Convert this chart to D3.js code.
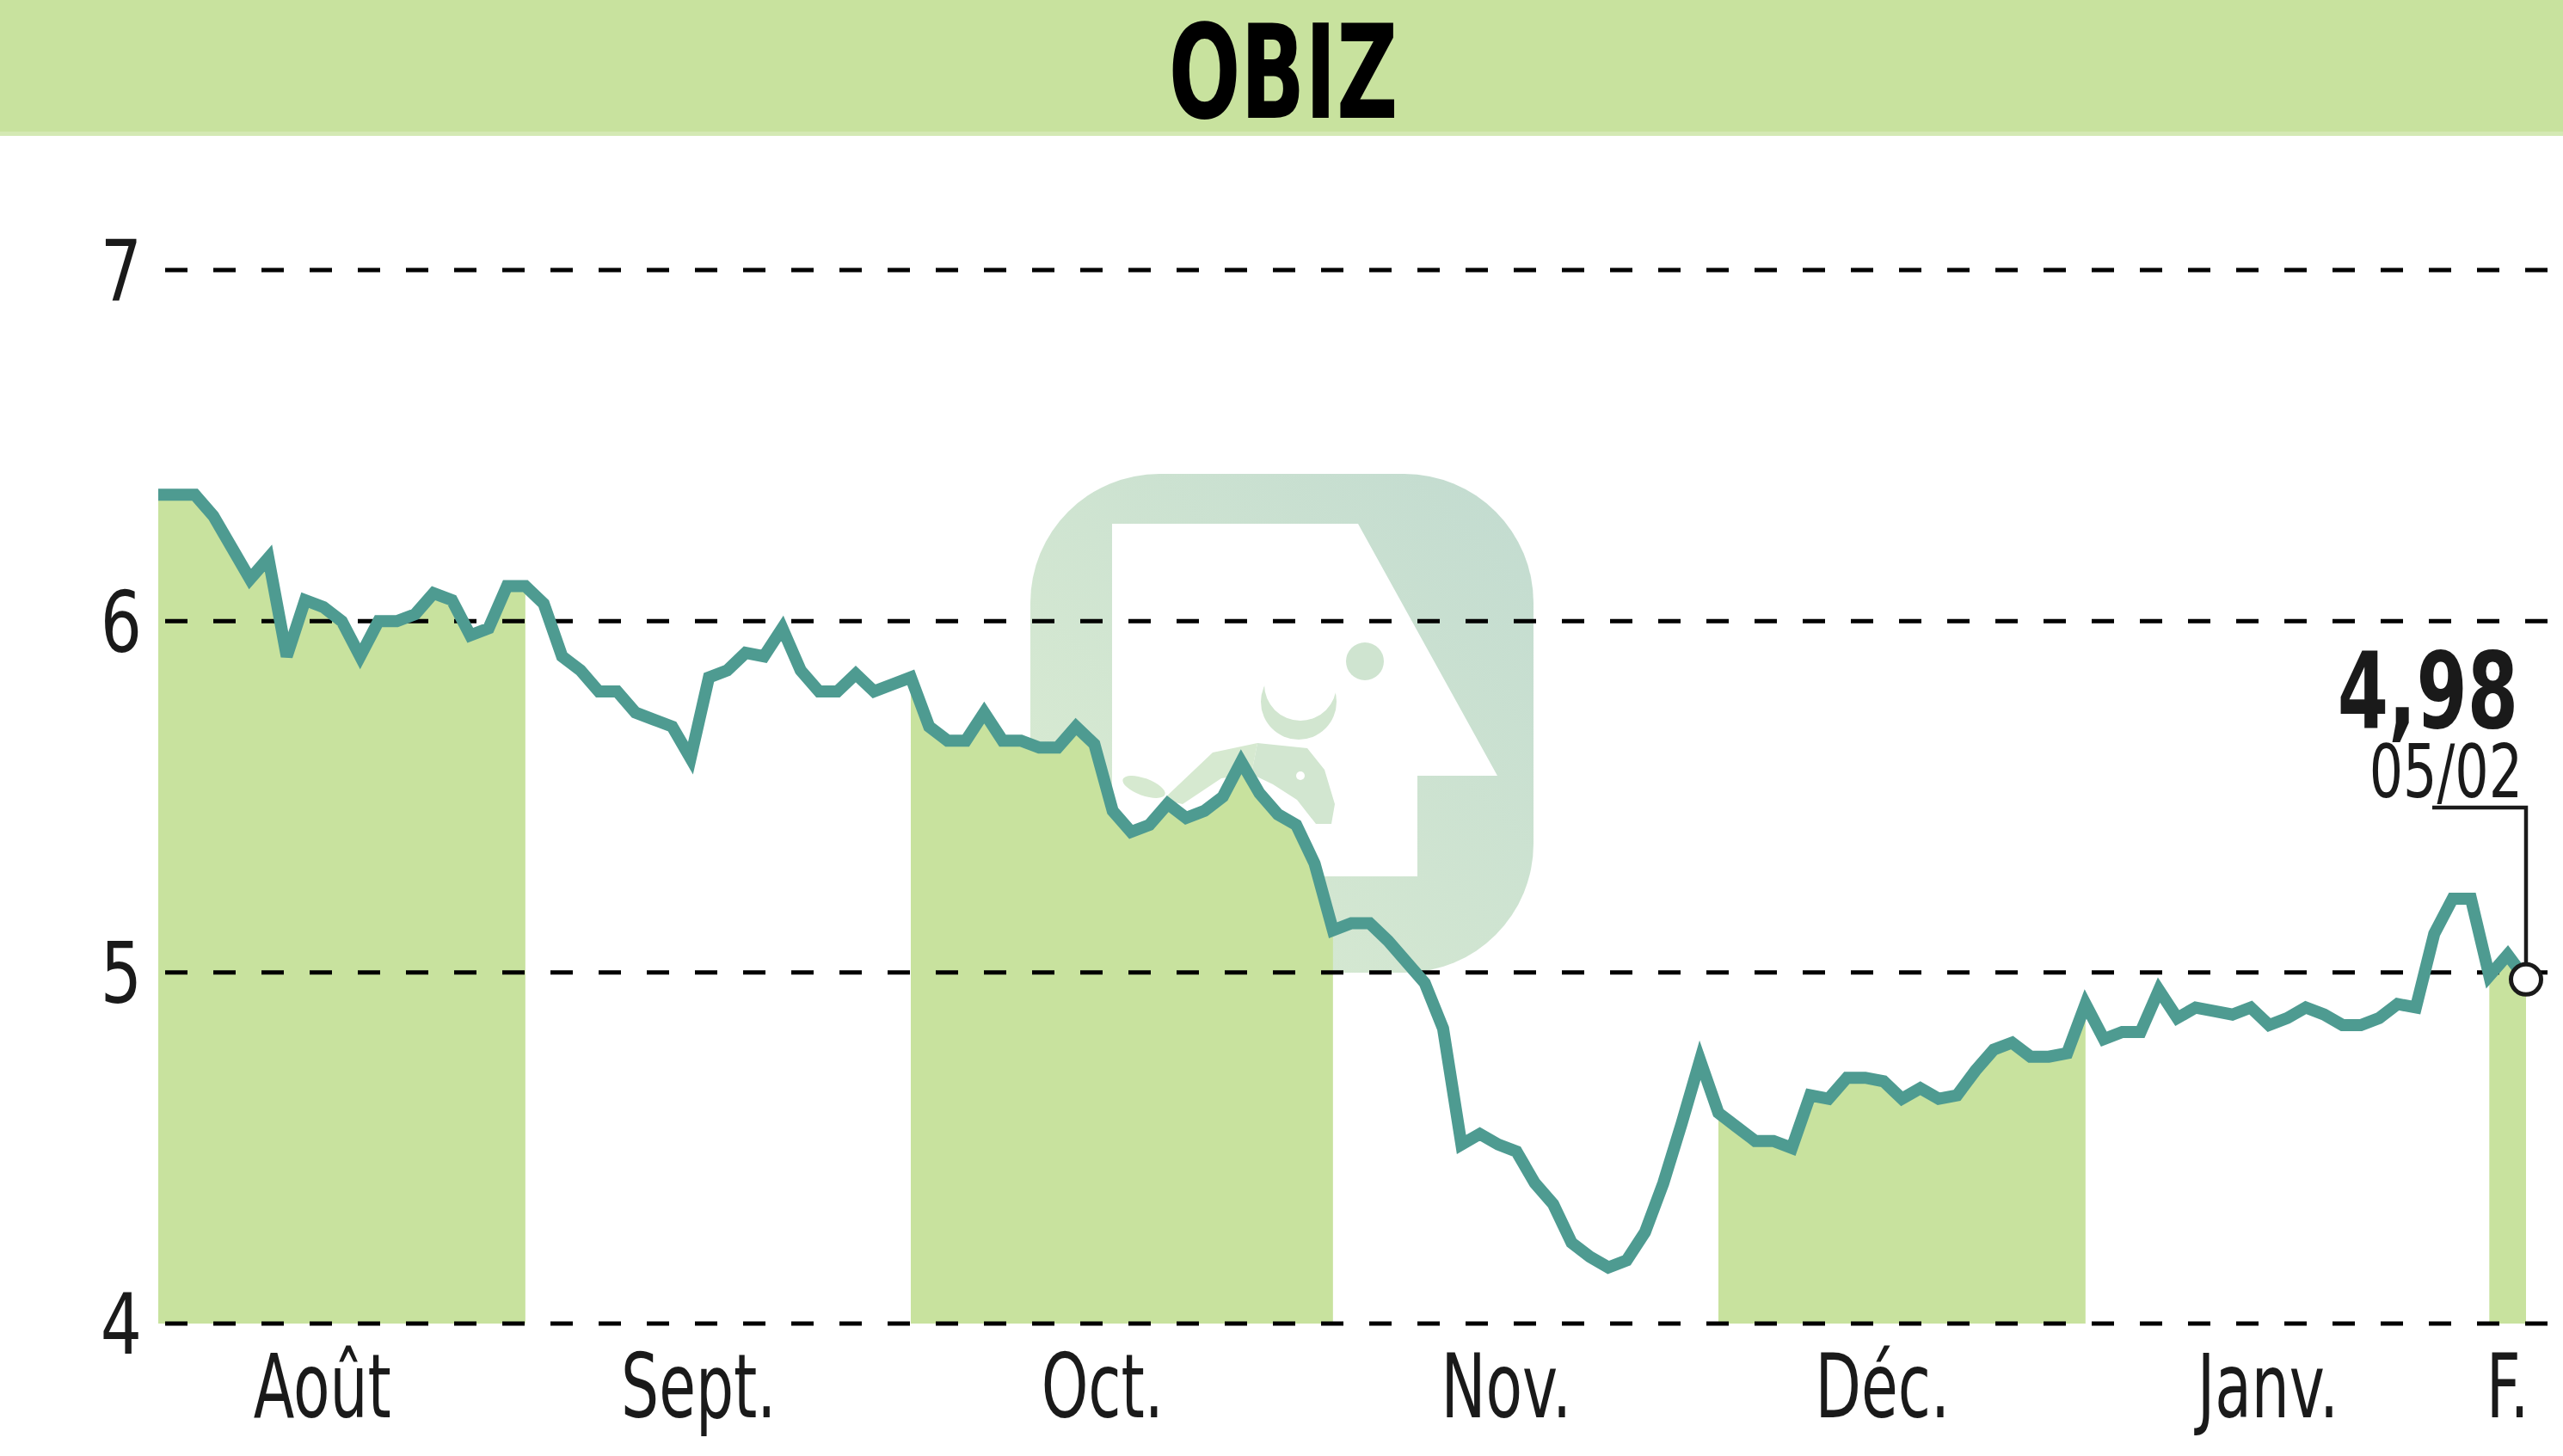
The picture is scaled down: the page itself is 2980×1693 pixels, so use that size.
<!DOCTYPE html>
<html>
<head>
<meta charset="utf-8">
<script src="https://cdn.jsdelivr.net/npm/d3@7"></script>
<style>
  html, body { margin: 0; padding: 0; background: #fff; }
  svg { display: block; }
  text { font-family: "Liberation Sans Narrow", "DejaVu Sans Condensed", "Liberation Sans", sans-serif; fill: #1a1a1a; }
</style>
</head>
<body>
<svg id="chart"></svg>
<script>
// chart data
const title = 'OBIZ'
const months = ['Août', 'Sept.', 'Oct.', 'Nov.', 'Déc.', 'Janv.', 'F.']
const monthDays = [20, 21, 23, 21, 20, 22, 3] // trading days shown per month
const yTicks = [4, 5, 6, 7]
const prices = [
    // août
    6.36, 6.36, 6.36, 6.30, 6.21, 6.12, 6.18, 5.90, 6.06, 6.04,
    6.00, 5.90, 6.00, 6.00, 6.02, 6.08, 6.06, 5.96, 5.98, 6.10,
    // sept.
    6.10, 6.05, 5.90, 5.86, 5.80, 5.80, 5.74, 5.72, 5.70, 5.61,
    5.84, 5.86, 5.91, 5.90, 5.98, 5.86, 5.80, 5.80, 5.85, 5.80, 5.82,
    // oct.
    5.84, 5.70, 5.66, 5.66, 5.74, 5.66, 5.66, 5.64, 5.64, 5.70,
    5.65, 5.46, 5.40, 5.42, 5.48, 5.44, 5.46, 5.50, 5.60, 5.51,
    5.45, 5.42, 5.31,
    // nov.
    5.12, 5.14, 5.14, 5.09, 5.03, 4.97, 4.84, 4.51, 4.54, 4.51,
    4.49, 4.40, 4.34, 4.23, 4.19, 4.16, 4.18, 4.26, 4.40, 4.57, 4.75,
    // déc.
    4.60, 4.56, 4.52, 4.52, 4.50, 4.65, 4.64, 4.70, 4.70, 4.69,
    4.64, 4.67, 4.64, 4.65, 4.72, 4.78, 4.80, 4.76, 4.76, 4.77,
    // janv.
    4.91, 4.81, 4.83, 4.83, 4.95, 4.87, 4.90, 4.89, 4.88, 4.90,
    4.85, 4.87, 4.90, 4.88, 4.85, 4.85, 4.87, 4.91, 4.90, 5.11,
    5.21, 5.21,
    // févr.
    4.99, 5.05, 4.98
]
const lastLabel = '4,98'
const lastDate = '05/02'

const width = 2980, height = 1693
const green = '#c8e29e'
const teal = '#4e9b91'
const wmColor = '#d2e6d0'

const svg = d3.select('#chart').attr('width', width).attr('height', height)

const x = d3.scaleLinear().domain([0, prices.length - 1]).range([184, 2937])
const y = d3.scaleLinear().domain([4, 7]).range([1539, 314])

// first index of each month
const starts = [0, ...d3.cumsum(monthDays)].slice(0, months.length)

// header
svg.append('rect').attr('width', width).attr('height', 153).attr('fill', green)
svg.append('rect').attr('y', 153).attr('width', width).attr('height', 5).attr('fill', '#d4e9b4')
svg.append('text')
    .attr('transform', 'translate(1492,137) scale(0.72,1)')
    .attr('text-anchor', 'middle')
    .attr('font-size', 152)
    .attr('font-weight', 'bold')
    .style('fill', '#000')
    .text(title)

// watermark logo
const defs = svg.append('defs')
const grad = defs.append('linearGradient').attr('id', 'wm')
    .attr('x1', '0%').attr('y1', '100%').attr('x2', '100%').attr('y2', '0%')
grad.append('stop').attr('offset', '0%').attr('stop-color', '#dcedd2')
grad.append('stop').attr('offset', '100%').attr('stop-color', '#c2dbd0')

const wm = svg.append('g')
wm.append('rect').attr('x', 1198).attr('y', 551).attr('width', 585).attr('height', 580)
    .attr('rx', 150).attr('fill', 'url(#wm)')
wm.append('polygon')
    .attr('points', '1293,609 1579,609 1741,902 1648,902 1648,1019 1293,1019')
    .attr('fill', '#fff')
wm.append('circle').attr('cx', 1587).attr('cy', 769).attr('r', 22).attr('fill', '#cfe4d0')
// horns: crescent = circle minus a shifted circle
wm.append('circle').attr('cx', 1510).attr('cy', 816).attr('r', 44).attr('fill', wmColor)
wm.append('circle').attr('cx', 1512).attr('cy', 796).attr('r', 42).attr('fill', '#fff')
// head, snout pointing down-right
wm.append('polygon')
    .attr('points', '1462,864 1520,870 1540,895 1552,935 1548,958 1530,958 1508,930 1480,912 1455,900')
    .attr('fill', wmColor)
// back / ear going down-left
wm.append('polygon')
    .attr('points', '1462,864 1455,900 1420,905 1375,935 1352,930 1410,875')
    .attr('fill', '#d6e9d0')
wm.append('ellipse').attr('cx', 1330).attr('cy', 915).attr('rx', 26).attr('ry', 10)
    .attr('transform', 'rotate(20,1330,915)').attr('fill', '#d6e9d0')
wm.append('circle').attr('cx', 1512).attr('cy', 902).attr('r', 5).attr('fill', '#fff')

// shaded months (every other one)
const area = d3.area()
    .x(d => x(d.i))
    .y0(y(4))
    .y1(d => y(d.v))

const indexed = prices.map((v, i) => ({i, v}))
starts.forEach((s, m) => {
    if (m % 2 !== 0) return
    const end = Math.min(s + monthDays[m], prices.length - 1)
    svg.append('path')
        .attr('fill', green)
        .attr('d', area(indexed.slice(s, end + 1)))
})

// dashed grid
svg.append('g').selectAll('line').data(yTicks).join('line')
    .attr('x1', 192).attr('x2', width)
    .attr('y1', d => y(d)).attr('y2', d => y(d))
    .attr('stroke', '#000')
    .attr('stroke-width', 5)
    .attr('stroke-dasharray', '26,30')

// y labels
svg.append('g').selectAll('text').data(yTicks).join('text')
    .attr('transform', d => `translate(165,${y(d)}) scale(0.86,1)`)
    .attr('dy', '0.36em')
    .attr('text-anchor', 'end')
    .attr('font-size', 98)
    .text(d => d)

// month labels
svg.append('g').selectAll('text').data(months).join('text')
    .attr('transform', (d, m) => {
        const mid = starts[m] + (monthDays[m] - 1) / 2
        const shift = m === months.length - 1 ? 0 : -12
        return `translate(${x(mid) + shift},1648) scale(0.75,1)`
    })
    .attr('text-anchor', 'middle')
    .attr('font-size', 103)
    .text(d => d)

// price line
const line = d3.line()
    .x((d, i) => x(i))
    .y(d => y(d))
svg.append('path')
    .attr('fill', 'none')
    .attr('stroke', teal)
    .attr('stroke-width', 14)
    .attr('stroke-linejoin', 'miter')
    .attr('d', line(prices))

// last value marker
const lx = x(prices.length - 1), ly = y(prices[prices.length - 1])
svg.append('path')
    .attr('fill', 'none')
    .attr('stroke', '#1a1a1a')
    .attr('stroke-width', 4.5)
    .attr('d', `M${lx},${ly - 18}V939H2828`)
svg.append('circle')
    .attr('cx', lx).attr('cy', ly).attr('r', 17.5)
    .attr('fill', '#fff')
    .attr('stroke', '#1a1a1a')
    .attr('stroke-width', 5)

svg.append('text')
    .attr('transform', 'translate(2928,846) scale(0.77,1)')
    .attr('text-anchor', 'end')
    .attr('font-size', 123)
    .attr('font-weight', 'bold')
    .text(lastLabel)
svg.append('text')
    .attr('transform', 'translate(2933,927) scale(0.8,1)')
    .attr('text-anchor', 'end')
    .attr('font-size', 86)
    .text(lastDate)
</script>
</body>
</html>
